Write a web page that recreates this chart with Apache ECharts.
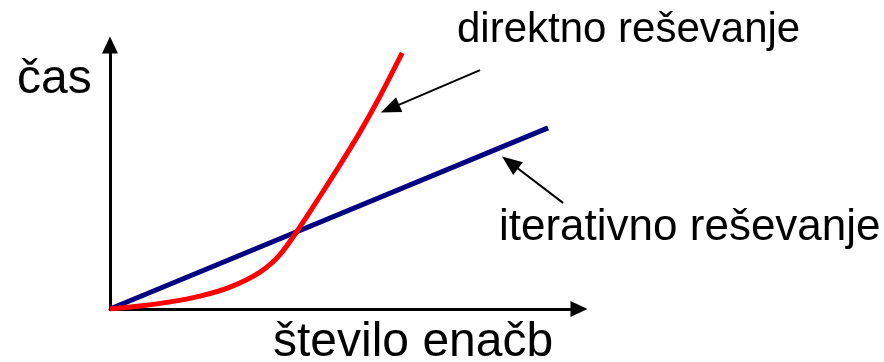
<!DOCTYPE html>
<html>
<head>
<meta charset="utf-8">
<script src="https://cdn.jsdelivr.net/npm/echarts@6/dist/echarts.min.js"></script>
<style>html,body{margin:0;padding:0;background:#fff}#c{width:884px;height:362px}</style>
</head>
<body>
<div id="c"></div>
<script>
// Data (abstract units: x = number of equations, y = time)
const directX = [0, 6.4, 12.8, 19.2, 25.6, 32.0, 36.2, 40.5, 44.8, 49.0, 53.3, 57.6, 62.3];
const directY = [0, 1.1, 2.7, 4.9, 8.3, 14.0, 20.5, 31.1, 42.8, 54.5, 67.0, 80.7, 97.0];
const iterX = [0, 93.4];
const iterY = [0, 68.6];
const labelY = 'čas';
const labelX = 'število enačb';
const labelDirect = 'direktno reševanje';
const labelIter = 'iterativno reševanje';
// annotation arrows: [tail, head] in data units
const arrowDirect = [[78.9, 90.5], [59.7, 75.9]];
const arrowIter = [[96.6, 40.2], [85.3, 55.5]];

const FONT = '"Liberation Sans", Arial, sans-serif';
const chart = echarts.init(document.getElementById('c'), null, {renderer: 'canvas'});
const zip = (xs, ys) => xs.map((x, i) => [x, ys[i]]);
const arrowLine = (a) => ({
  type: 'line', data: [], silent: true,
  markLine: {
    silent: true, animation: false,
    symbol: ['none', 'triangle'], symbolSize: [16, 20],
    lineStyle: {color: '#000', width: 2, type: 'solid'},
    label: {show: false},
    data: [[{coord: a[0]}, {coord: a[1]}]]
  }
});
const axisCommon = {
  type: 'value', min: 0, max: 100,
  axisLine: {show: true, onZero: false, symbol: ['none', 'triangle'], symbolSize: [16, 17],
    lineStyle: {color: '#000', width: 3}},
  axisTick: {show: false}, axisLabel: {show: false}, splitLine: {show: false}
};
chart.setOption({
  animation: false,
  grid: {left: 110, right: 884 - 579, top: 45, bottom: 362 - 309},
  xAxis: axisCommon,
  yAxis: axisCommon,
  series: [
    {type: 'line', data: zip(iterX, iterY), showSymbol: false, lineStyle: {color: '#000080', width: 5}, z: 3},
    {type: 'line', data: zip(directX, directY), smooth: 0.3, showSymbol: false, lineStyle: {color: '#ff0000', width: 5}, z: 4},
    arrowLine(arrowDirect),
    arrowLine(arrowIter)
  ],
  graphic: [
    {type: 'text', left: 17, top: 56, style: {text: labelY, font: '48px ' + FONT, fill: '#000'}},
    {type: 'text', left: 273, top: 319, style: {text: labelX, font: '48px ' + FONT, fill: '#000'}},
    {type: 'text', left: 457, top: 9, style: {text: labelDirect, font: '42px ' + FONT, fill: '#000'}},
    {type: 'text', left: 499, top: 206, style: {text: labelIter, font: '44px ' + FONT, fill: '#000'}}
  ]
});
</script>
</body>
</html>
